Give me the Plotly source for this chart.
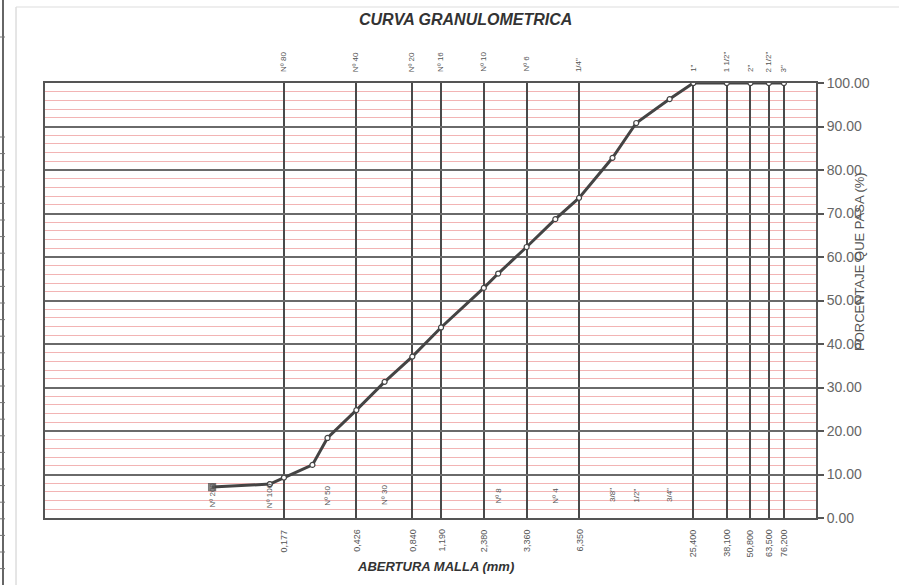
import math
import plotly.graph_objects as go

# ---- data ----
sizes_mm = [0.074, 0.149, 0.177, 0.250, 0.300, 0.426, 0.600, 0.840, 1.190, 2.000, 2.380,
            3.360, 4.760, 6.350, 9.525, 12.700, 19.050, 25.400, 38.100, 50.800, 63.500, 76.200]
passing = [7.1, 7.8, 9.3, 12.2, 18.4, 24.8, 31.3, 37.1, 43.8, 52.9, 56.2,
           62.3, 68.7, 73.6, 82.8, 90.8, 96.3, 100.0, 100.0, 100.0, 100.0, 100.0]

grid_sizes = [0.177, 0.426, 0.840, 1.190, 2.000, 3.360, 6.350, 25.400, 38.100, 50.800, 63.500, 76.200]
top_labels = ["Nº 80", "Nº 40", "Nº 20", "Nº 16", "Nº 10", "Nº 6", '1/4"', '1"', '1 1/2"', '2"', '2 1/2"', '3"']
bottom_labels = ["0,177", "0,426", "0,840", "1,190", "2,380", "3,360", "6,350",
                 "25,400", "38,100", "50,800", "63,500", "76,200"]
inner_sizes = [0.074, 0.149, 0.300, 0.600, 2.380, 4.760, 9.525, 12.700, 19.050]
inner_labels = ["Nº 200", "Nº 100", "Nº 50", "Nº 30", "Nº 8", "Nº 4", '3/8"', '1/2"', '3/4"']
y_ticks = [0, 10, 20, 30, 40, 50, 60, 70, 80, 90, 100]
y_ticktext = [f"{v:.2f}" for v in y_ticks]

W, H = 899, 585
ML, MR, MT, MB = 45, 83, 83, 67
PW, PH = W - ML - MR, H - MT - MB

def px_x(px):
    return (px - ML) / PW

def px_y(py):
    return (H - MB - py) / PH

FONT = "Liberation Sans, Arial, sans-serif"
DARK = "#4a4a4a"

fig = go.Figure()
fig.add_trace(go.Scatter(
    x=sizes_mm[1:], y=passing[1:], mode="lines+markers",
    line=dict(color="#444444", width=3),
    marker=dict(symbol="circle", size=5, color="white", line=dict(color="#444444", width=1.2)),
    hoverinfo="x+y", showlegend=False))
fig.add_trace(go.Scatter(
    x=sizes_mm[:2], y=passing[:2], mode="lines+markers",
    line=dict(color="#444444", width=3),
    marker=dict(symbol=["square", "circle"], size=[7, 5], color=["#555555", "white"],
                line=dict(color="#444444", width=1.2)),
    hoverinfo="x+y", showlegend=False))

annotations = []
for s, t in zip(grid_sizes, top_labels):
    annotations.append(dict(x=math.log10(s), xref="x", y=px_y(74), yref="paper", text=t, textangle=-90,
                            showarrow=False, xanchor="center", yanchor="bottom",
                            font=dict(family=FONT, size=8, color="#555555")))
for s, t in zip(grid_sizes, bottom_labels):
    annotations.append(dict(x=math.log10(s), xref="x", y=px_y(527), yref="paper", text=t, textangle=-90,
                            showarrow=False, xanchor="center", yanchor="top",
                            font=dict(family=FONT, size=9, color="#555555")))
for s, t in zip(inner_sizes, inner_labels):
    annotations.append(dict(x=math.log10(s), xref="x", y=5.2, yref="y", text=t, textangle=-90,
                            showarrow=False, xanchor="center", yanchor="middle",
                            font=dict(family=FONT, size=8, color="#555555")))

annotations.append(dict(x=px_x(466), y=px_y(20), xref="paper", yref="paper",
                        text="<b><i>CURVA GRANULOMETRICA</i></b>", showarrow=False,
                        xanchor="center", yanchor="middle",
                        font=dict(family=FONT, size=16, color="#333333")))
annotations.append(dict(x=px_x(435), y=px_y(566), xref="paper", yref="paper",
                        text="<b><i>ABERTURA MALLA (mm)</i></b>", showarrow=False,
                        xanchor="center", yanchor="middle",
                        font=dict(family=FONT, size=13, color="#333333")))
annotations.append(dict(x=px_x(859), y=px_y(262), xref="paper", yref="paper",
                        text="PORCENTAJE QUE PASA (%)", textangle=-90, showarrow=False,
                        xanchor="center", yanchor="middle",
                        font=dict(family=FONT, size=13, color="#555555")))

shapes = [
    dict(type="line", xref="paper", yref="paper", x0=px_x(3), x1=px_x(3), y0=px_y(0), y1=px_y(585),
         line=dict(color="#666666", width=2)),
    dict(type="line", xref="paper", yref="paper", x0=px_x(16), x1=px_x(16), y0=px_y(7), y1=px_y(585),
         line=dict(color="#cccccc", width=1)),
    dict(type="line", xref="paper", yref="paper", x0=px_x(16), x1=px_x(899), y0=px_y(7), y1=px_y(7),
         line=dict(color="#dddddd", width=1)),
]
for k in range(27):
    py = 137 + k * 16.6
    if py > 585:
        break
    shapes.append(dict(type="line", xref="paper", yref="paper", x0=px_x(0), x1=px_x(5),
                       y0=px_y(py), y1=px_y(py), line=dict(color="#777777", width=1)))
shapes.append(dict(type="line", xref="paper", yref="paper", x0=px_x(0), x1=px_x(5),
                   y0=px_y(37), y1=px_y(37), line=dict(color="#777777", width=1)))

fig.update_layout(
    width=W, height=H, margin=dict(l=ML, r=MR, t=MT, b=MB),
    paper_bgcolor="white", plot_bgcolor="white",
    annotations=annotations, shapes=shapes,
    xaxis=dict(type="log", range=[-2.011, 2.051], tickvals=grid_sizes, showticklabels=False,
               ticks="", showgrid=True, gridcolor=DARK, gridwidth=2,
               showline=True, linecolor="#555555", linewidth=2, mirror=True, zeroline=False),
    yaxis=dict(range=[0, 100], side="right", tickvals=y_ticks, ticktext=y_ticktext,
               ticks="outside", ticklen=6, tickcolor="#555555", tickwidth=1.5,
               tickfont=dict(family=FONT, size=14, color="#666666"),
               showgrid=True, gridcolor="#6a6a6a", gridwidth=1.5,
               minor=dict(dtick=2, showgrid=True, gridcolor="#f2b4b4", gridwidth=1, ticks=""),
               showline=True, linecolor="#555555", linewidth=2, mirror=True, zeroline=False),
)

fig.write_html("out.html", config={"displayModeBar": False},
               post_script="document.body.style.margin='0px';document.body.style.overflow='hidden';")
